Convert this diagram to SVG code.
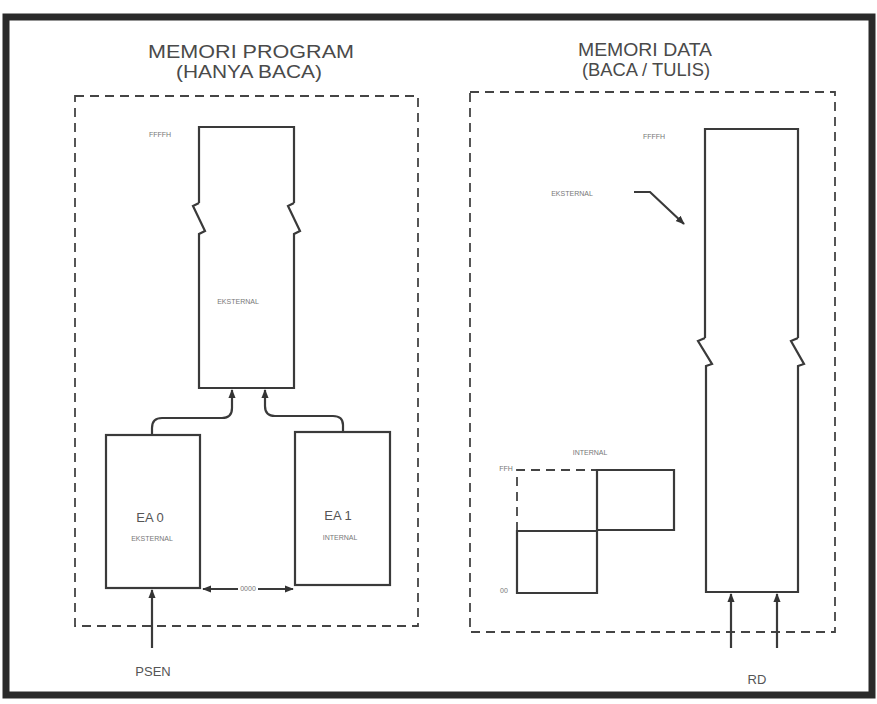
<svg xmlns="http://www.w3.org/2000/svg" width="877" height="704" viewBox="0 0 877 704">
<defs>
<marker id="ah" viewBox="0 0 10 10" refX="9" refY="5" markerWidth="9" markerHeight="9" orient="auto" markerUnits="userSpaceOnUse"><path d="M0,1 L10,5 L0,9 z" fill="#333"/></marker>
<style>
.ln{fill:none;stroke:#3a3a3a;stroke-width:2.2}
.ds{fill:none;stroke:#444;stroke-width:1.8;stroke-dasharray:9 6}
.t{font-family:"Liberation Sans",Arial,sans-serif;fill:#4a4a4a;text-anchor:middle}
.ti{font-size:18px}
.sm{font-size:7px;fill:#777}
.md{font-size:13px;fill:#555}
</style>
</defs>
<rect x="0" y="0" width="877" height="704" fill="#fff"/>
<rect x="6" y="17" width="866" height="678" fill="none" stroke="#2a2a2a" stroke-width="7"/>
<g id="title-left"><text class="t ti" x="251" y="58" textLength="206" lengthAdjust="spacingAndGlyphs">MEMORI PROGRAM</text><text class="t ti" x="249" y="78" textLength="146" lengthAdjust="spacingAndGlyphs">(HANYA BACA)</text></g>
<g id="title-right"><text class="t ti" x="645" y="56" textLength="134" lengthAdjust="spacingAndGlyphs">MEMORI DATA</text><text class="t ti" x="646" y="76" textLength="128" lengthAdjust="spacingAndGlyphs">(BACA / TULIS)</text></g>
<g id="region-program"><rect class="ds" x="75" y="96" width="343" height="530"/></g>
<g id="region-data"><rect class="ds" x="470" y="92" width="365" height="540"/></g>
<g id="prog-external">
<path class="ln" d="M199,203 L199,127 L294,127 L294,203 M199,203 L193,206 L205,231 L199,234 L199,388 L294,388 L294,234 L300,231 L288,206 L294,203"/>
<text class="t sm" x="160" y="137">FFFFH</text>
<text class="t sm" x="238" y="304">EKSTERNAL</text>
</g>
<g id="ea0"><rect class="ln" x="106" y="435" width="94" height="153"/><text class="t md" x="150" y="522">EA  0</text><text class="t sm" x="152" y="541">EKSTERNAL</text></g>
<g id="ea1"><rect class="ln" x="295" y="432" width="95" height="153"/><text class="t md" x="338" y="520">EA  1</text><text class="t sm" x="340" y="540">INTERNAL</text></g>
<g id="data-external">
<path class="ln" d="M705,338 L705,129 L798,129 L798,338 M705,338 L698,341 L712,364 L706,366 L706,592 L798,592 L798,366 L804,364 L791,341 L798,338"/>
<text class="t sm" x="654" y="139">FFFFH</text>
<text class="t sm" x="572" y="196">EKSTERNAL</text>
</g>
<g id="data-internal">
<path class="ds" d="M517,531 L517,470 L597,470"/>
<path class="ln" d="M597,470 L674,470 L674,530 L597,530 Z M517,531 L597,531 L597,593 L517,593 Z"/>
<text class="t sm" x="590" y="455">INTERNAL</text>
<text class="t sm" x="506" y="471">FFH</text>
<text class="t sm" x="504" y="593">00</text>
</g>
<g id="labels-bottom"><text class="t md" x="153" y="676">PSEN</text><text class="t md" x="757" y="684">RD</text></g>
<g id="connectors">
<path class="ln" d="M152,435 L152,428 Q152,418 162,418 L222,418 Q232,418 232,408 L232,390" marker-end="url(#ah)"/>
<path class="ln" d="M343,432 L343,425 Q343,416 333,416 L275,416 Q265,416 265,406 L265,390" marker-end="url(#ah)"/>
<path class="ln" d="M238,589 L203,589" marker-end="url(#ah)"/>
<path class="ln" d="M258,589 L293,589" marker-end="url(#ah)"/>
<text class="t sm" x="248" y="591">0000</text>
<path class="ln" d="M152,648 L152,590" marker-end="url(#ah)"/>
<path class="ln" d="M731,648 L731,594" marker-end="url(#ah)"/>
<path class="ln" d="M777,648 L777,594" marker-end="url(#ah)"/>
<path class="ln" d="M634,192 L650,192 L684,224" marker-end="url(#ah)"/>
</g>
</svg>
